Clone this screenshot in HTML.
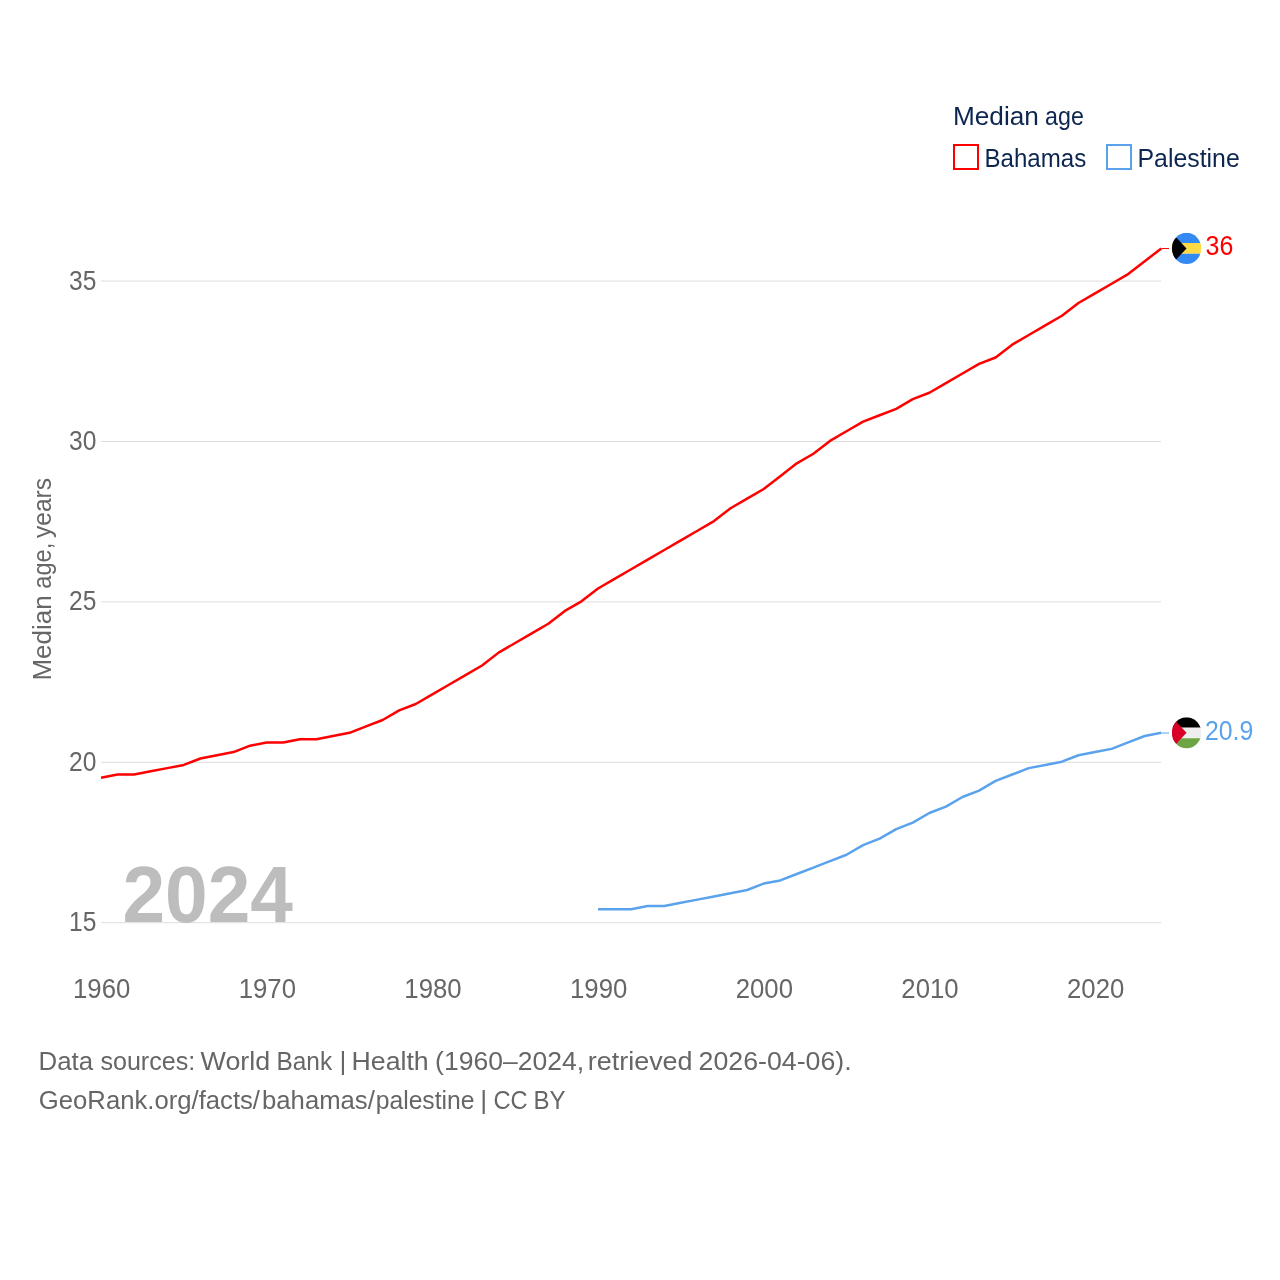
<!DOCTYPE html>
<html><head><meta charset="utf-8"><title>Median age</title>
<style>
html,body{margin:0;padding:0;background:#fff;}
svg{display:block;}
text{font-family:"Liberation Sans",sans-serif;}
svg{will-change:transform;}
</style></head><body>
<svg width="1280" height="1280" viewBox="0 0 1280 1280">
<rect width="1280" height="1280" fill="#fff"/>

<line x1="101" x2="1161" y1="922.70" y2="922.70" stroke="#dddddd" stroke-width="1"/>
<line x1="101" x2="1161" y1="762.30" y2="762.30" stroke="#dddddd" stroke-width="1"/>
<line x1="101" x2="1161" y1="601.90" y2="601.90" stroke="#dddddd" stroke-width="1"/>
<line x1="101" x2="1161" y1="441.50" y2="441.50" stroke="#dddddd" stroke-width="1"/>
<line x1="101" x2="1161" y1="281.10" y2="281.10" stroke="#dddddd" stroke-width="1"/>
<text transform="translate(122.40,922.00) scale(0.9580,1)" font-size="80" font-weight="bold" fill="#bdbdbd">2024</text>
<text transform="translate(69.00,931.10) scale(0.9100,1)" font-size="27" fill="#666666">15</text>
<text transform="translate(69.00,770.70) scale(0.9100,1)" font-size="27" fill="#666666">20</text>
<text transform="translate(69.00,610.30) scale(0.9100,1)" font-size="27" fill="#666666">25</text>
<text transform="translate(69.00,449.90) scale(0.9100,1)" font-size="27" fill="#666666">30</text>
<text transform="translate(69.00,289.50) scale(0.9100,1)" font-size="27" fill="#666666">35</text>
<text transform="translate(73.00,998.00) scale(0.9550,1)" font-size="27" fill="#666666">1960</text>
<text transform="translate(238.67,998.00) scale(0.9550,1)" font-size="27" fill="#666666">1970</text>
<text transform="translate(404.34,998.00) scale(0.9550,1)" font-size="27" fill="#666666">1980</text>
<text transform="translate(570.02,998.00) scale(0.9550,1)" font-size="27" fill="#666666">1990</text>
<text transform="translate(735.69,998.00) scale(0.9550,1)" font-size="27" fill="#666666">2000</text>
<text transform="translate(901.36,998.00) scale(0.9550,1)" font-size="27" fill="#666666">2010</text>
<text transform="translate(1067.03,998.00) scale(0.9550,1)" font-size="27" fill="#666666">2020</text>
<text transform="translate(51.00,680.56) rotate(-90) scale(0.9813,1)" font-size="26.5" fill="#666666">Median</text>
<text transform="translate(51.00,588.69) rotate(-90) scale(0.8898,1)" font-size="26.5" fill="#666666">age,</text>
<text transform="translate(51.00,538.00) rotate(-90) scale(0.9280,1)" font-size="26.5" fill="#666666">years</text>
<path d="M101.00 777.74 L117.57 774.53 L134.13 774.53 L150.70 771.32 L167.27 768.12 L183.84 764.91 L200.40 758.49 L216.97 755.28 L233.54 752.08 L250.10 745.66 L266.67 742.45 L283.24 742.45 L299.81 739.24 L316.37 739.24 L332.94 736.04 L349.51 732.83 L366.07 726.41 L382.64 720.00 L399.21 710.37 L415.78 703.96 L432.34 694.33 L448.91 684.71 L465.48 675.08 L482.05 665.46 L498.61 652.63 L515.18 643.00 L531.75 633.38 L548.31 623.76 L564.88 610.92 L581.45 601.30 L598.02 588.47 L614.58 578.84 L631.15 569.22 L647.72 559.60 L664.28 549.97 L680.85 540.35 L697.42 530.72 L713.99 521.10 L730.55 508.27 L747.12 498.64 L763.69 489.02 L780.25 476.19 L796.82 463.36 L813.39 453.73 L829.96 440.90 L846.52 431.28 L863.09 421.65 L879.66 415.24 L896.22 408.82 L912.79 399.20 L929.36 392.78 L945.93 383.16 L962.49 373.53 L979.06 363.91 L995.63 357.49 L1012.20 344.66 L1028.76 335.04 L1045.33 325.41 L1061.90 315.79 L1078.46 302.96 L1095.03 293.33 L1111.60 283.71 L1128.17 274.08 L1144.73 261.25 L1161.30 248.42" fill="none" stroke="#ff0000" stroke-width="2.5" stroke-linejoin="round" stroke-linecap="butt"/>
<path d="M598.02 909.27 L614.58 909.27 L631.15 909.27 L647.72 906.06 L664.28 906.06 L680.85 902.85 L697.42 899.64 L713.99 896.44 L730.55 893.23 L747.12 890.02 L763.69 883.60 L780.25 880.40 L796.82 873.98 L813.39 867.56 L829.96 861.15 L846.52 854.73 L863.09 845.11 L879.66 838.69 L896.22 829.07 L912.79 822.65 L929.36 813.03 L945.93 806.61 L962.49 796.99 L979.06 790.57 L995.63 780.95 L1012.20 774.53 L1028.76 768.12 L1045.33 764.91 L1061.90 761.70 L1078.46 755.28 L1095.03 752.08 L1111.60 748.87 L1128.17 742.45 L1144.73 736.04 L1161.30 732.83" fill="none" stroke="#5aa3ec" stroke-width="2.5" stroke-linejoin="round" stroke-linecap="butt"/>
<line x1="1161.5" x2="1169" y1="248.52" y2="248.52" stroke="#ff0000" stroke-width="1"/>
<line x1="1161.5" x2="1169" y1="733.03" y2="733.03" stroke="#5aa3ec" stroke-width="1"/>
<defs><clipPath id="cc"><circle cx="256" cy="256" r="256"/></clipPath></defs>
<g transform="translate(1171.85,232.82) scale(0.057422,0.060937)"><g clip-path="url(#cc)"><path fill="#ffda44" d="M0 167h512v178H0z"/><path fill="#338af3" d="M0 0h512v167H0zM0 345h512v167H0z"/><path fill="#000" d="M0 0v512l256-256z"/></g></g>
<g transform="translate(1171.85,717.23) scale(0.057422,0.060937)"><g clip-path="url(#cc)"><path fill="#eee" d="M0 167h512v178H0z"/><path fill="#000" d="M0 0h512v167H0z"/><path fill="#6da544" d="M0 345h512v167H0z"/><path fill="#d80027" d="M0 0v512l256-256z"/></g></g>
<text transform="translate(1205.50,254.82) scale(0.9250,1)" font-size="27" fill="#ff0000">36</text>
<text transform="translate(1205.00,740.23) scale(0.9200,1)" font-size="27" fill="#5aa3ec">20.9</text>
<text transform="translate(952.98,125.00) scale(0.9889,1)" font-size="26.5" fill="#0d2650">Median</text>
<text transform="translate(1045.12,125.00) scale(0.8781,1)" font-size="26.5" fill="#0d2650">age</text>
<rect x="954" y="145" width="24" height="24" fill="#fff" stroke="#ff0000" stroke-width="2"/>
<text transform="translate(984.50,166.50) scale(0.9090,1)" font-size="26.5" fill="#0d2650">Bahamas</text>
<rect x="1107" y="145" width="24" height="24" fill="#fff" stroke="#5aa3ec" stroke-width="2"/>
<text transform="translate(1137.50,166.50) scale(0.9380,1)" font-size="26.5" fill="#0d2650">Palestine</text>
<text transform="translate(38.55,1069.50) scale(0.9753,1)" font-size="26.5" fill="#666666">Data</text>
<text transform="translate(100.40,1069.50) scale(0.9469,1)" font-size="26.5" fill="#666666">sources:</text>
<text transform="translate(200.60,1069.50) scale(1.0135,1)" font-size="26.5" fill="#666666">World</text>
<text transform="translate(276.46,1069.50) scale(0.9214,1)" font-size="26.5" fill="#666666">Bank</text>
<text transform="translate(339.60,1069.50) scale(1.0000,1)" font-size="26.5" fill="#666666">|</text>
<text transform="translate(351.59,1069.50) scale(1.0073,1)" font-size="26.5" fill="#666666">Health</text>
<text transform="translate(435.10,1069.50) scale(1.0009,1)" font-size="26.5" fill="#666666">(1960–2024,</text>
<text transform="translate(587.73,1069.50) scale(1.0176,1)" font-size="26.5" fill="#666666">retrieved</text>
<text transform="translate(698.59,1069.50) scale(1.0096,1)" font-size="26.5" fill="#666666">2026-04-06).</text>
<text transform="translate(38.83,1109.00) scale(0.9695,1)" font-size="26.5" fill="#666666">GeoRank.org/facts/</text>
<text transform="translate(262.03,1109.00) scale(0.9697,1)" font-size="26.5" fill="#666666">bahamas/</text>
<text transform="translate(375.67,1109.00) scale(0.9325,1)" font-size="26.5" fill="#666666">palestine</text>
<text transform="translate(480.20,1109.00) scale(1.0000,1)" font-size="26.5" fill="#666666">|</text>
<text transform="translate(493.41,1109.00) scale(0.8940,1)" font-size="26.5" fill="#666666">CC</text>
<text transform="translate(533.38,1109.00) scale(0.9087,1)" font-size="26.5" fill="#666666">BY</text>
</svg></body></html>
